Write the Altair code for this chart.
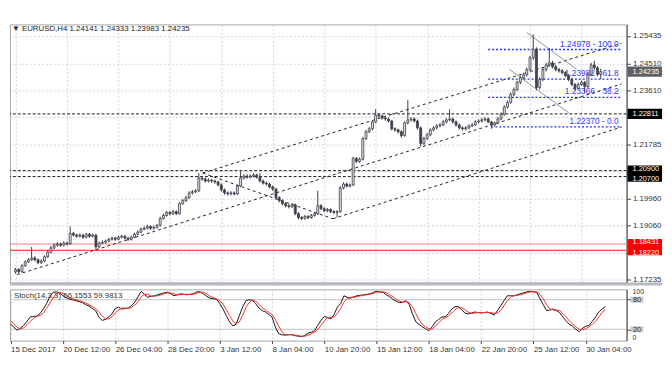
import json
import altair as alt
import pandas as pd

# ---------------- data ----------------
opens = [
    1.1750, 1.1757, 1.1750, 1.1770, 1.1783, 1.1790, 1.1796, 1.1790, 1.1780, 1.1786,
    1.1800, 1.1816, 1.1830, 1.1839, 1.1843, 1.1839, 1.1846, 1.1843, 1.1879, 1.1873,
    1.1869, 1.1873, 1.1866, 1.1876, 1.1869, 1.1873, 1.1833, 1.1846, 1.1849, 1.1853,
    1.1859, 1.1863, 1.1859, 1.1866, 1.1869, 1.1863, 1.1859, 1.1866, 1.1876, 1.1883,
    1.1893, 1.1896, 1.1902, 1.1896, 1.1899, 1.1906, 1.1929, 1.1939, 1.1949, 1.1945,
    1.1952, 1.1945, 1.1979, 1.1989, 1.1999, 1.2015, 1.2019, 1.2022, 1.2065, 1.2062,
    1.2055, 1.2058, 1.2055, 1.2052, 1.2042, 1.2025, 1.2015, 1.2012, 1.2015, 1.2012,
    1.2038, 1.2065, 1.2072, 1.2068, 1.2072, 1.2075, 1.2068, 1.2055, 1.2048, 1.2045,
    1.2035, 1.2028, 1.1999, 1.1989, 1.1979, 1.1972, 1.1969, 1.1975, 1.1945, 1.1932,
    1.1929, 1.1936, 1.1932, 1.1939, 1.1945, 1.1972, 1.1962, 1.1955, 1.1959, 1.1952,
    1.1949, 1.1952, 1.2032, 1.2045, 1.2038, 1.2042, 1.2131, 1.2121, 1.2128, 1.2198,
    1.2221, 1.2231, 1.2254, 1.2277, 1.2274, 1.2267, 1.2264, 1.2257, 1.2231, 1.2227,
    1.2221, 1.2208, 1.2251, 1.2261, 1.2264, 1.2257, 1.2234, 1.2181, 1.2198, 1.2211,
    1.2227, 1.2234, 1.2241, 1.2244, 1.2254, 1.2261, 1.2264, 1.2254, 1.2244, 1.2234,
    1.2231, 1.2234, 1.2241, 1.2244, 1.2254, 1.2257, 1.2261, 1.2264, 1.2254, 1.2244,
    1.2251, 1.2264, 1.2280, 1.2304, 1.2320, 1.2347, 1.2363, 1.2387, 1.2403, 1.2413,
    1.2430, 1.2470, 1.2499, 1.2370, 1.2397, 1.2430, 1.2446, 1.2453, 1.2440, 1.2430,
    1.2426, 1.2420, 1.2410, 1.2397, 1.2380, 1.2367, 1.2380, 1.2387, 1.2373, 1.2413,
    1.2446, 1.2436, 1.24141,
]
closes = [
    1.1757, 1.1750, 1.1770, 1.1783, 1.1790, 1.1796, 1.1790, 1.1780, 1.1786, 1.1800,
    1.1816, 1.1830, 1.1839, 1.1843, 1.1839, 1.1846, 1.1843, 1.1879, 1.1873, 1.1869,
    1.1873, 1.1866, 1.1876, 1.1869, 1.1873, 1.1833, 1.1846, 1.1849, 1.1853, 1.1859,
    1.1863, 1.1859, 1.1866, 1.1869, 1.1863, 1.1859, 1.1866, 1.1876, 1.1883, 1.1893,
    1.1896, 1.1902, 1.1896, 1.1899, 1.1906, 1.1929, 1.1939, 1.1949, 1.1945, 1.1952,
    1.1945, 1.1979, 1.1989, 1.1999, 1.2015, 1.2019, 1.2022, 1.2065, 1.2062, 1.2055,
    1.2058, 1.2055, 1.2052, 1.2042, 1.2025, 1.2015, 1.2012, 1.2015, 1.2012, 1.2038,
    1.2065, 1.2072, 1.2068, 1.2072, 1.2075, 1.2068, 1.2055, 1.2048, 1.2045, 1.2035,
    1.2028, 1.1999, 1.1989, 1.1979, 1.1972, 1.1969, 1.1975, 1.1945, 1.1932, 1.1929,
    1.1936, 1.1932, 1.1939, 1.1945, 1.1972, 1.1962, 1.1955, 1.1959, 1.1952, 1.1949,
    1.1952, 1.2032, 1.2045, 1.2038, 1.2042, 1.2131, 1.2121, 1.2128, 1.2198, 1.2221,
    1.2231, 1.2254, 1.2277, 1.2274, 1.2267, 1.2264, 1.2257, 1.2231, 1.2227, 1.2221,
    1.2208, 1.2251, 1.2261, 1.2264, 1.2257, 1.2234, 1.2181, 1.2198, 1.2211, 1.2227,
    1.2234, 1.2241, 1.2244, 1.2254, 1.2261, 1.2264, 1.2254, 1.2244, 1.2234, 1.2231,
    1.2234, 1.2241, 1.2244, 1.2254, 1.2257, 1.2261, 1.2264, 1.2254, 1.2244, 1.2251,
    1.2264, 1.2280, 1.2304, 1.2320, 1.2347, 1.2363, 1.2387, 1.2403, 1.2413, 1.2430,
    1.2470, 1.2499, 1.2370, 1.2397, 1.2430, 1.2446, 1.2453, 1.2440, 1.2430, 1.2426,
    1.2420, 1.2410, 1.2397, 1.2380, 1.2367, 1.2380, 1.2387, 1.2373, 1.2413, 1.2446,
    1.2436, 1.24141, 1.24235,
]
highs = [
    1.1763, 1.1762, 1.1775, 1.1788, 1.1796, 1.1833, 1.1802, 1.1794, 1.1791, 1.1805,
    1.1821, 1.1836, 1.1845, 1.1850, 1.1848, 1.1852, 1.1851, 1.1902, 1.1884, 1.1878,
    1.1879, 1.1877, 1.1881, 1.1880, 1.1878, 1.1877, 1.1851, 1.1855, 1.1858, 1.1864,
    1.1868, 1.1867, 1.1871, 1.1874, 1.1873, 1.1867, 1.1871, 1.1881, 1.1889, 1.1898,
    1.1902, 1.1908, 1.1906, 1.1905, 1.1911, 1.1935, 1.1945, 1.1955, 1.1954, 1.1958,
    1.1956, 1.1984, 1.1995, 1.2005, 1.2021, 1.2025, 1.2028, 1.2082, 1.2072, 1.2067,
    1.2064, 1.2063, 1.2060, 1.2056, 1.2047, 1.2030, 1.2020, 1.2021, 1.2020, 1.2043,
    1.2088, 1.2078, 1.2077, 1.2078, 1.2081, 1.2080, 1.2082, 1.2060, 1.2053, 1.2050,
    1.2040, 1.2032, 1.2004, 1.1994, 1.1984, 1.1977, 1.1981, 1.1979, 1.1950, 1.1937,
    1.1941, 1.1940, 1.1944, 1.1950, 1.2022, 1.1977, 1.1967, 1.1964, 1.1963, 1.1957,
    1.1957, 1.2038, 1.2051, 1.2050, 1.2047, 1.2137, 1.2136, 1.2134, 1.2204, 1.2227,
    1.2237, 1.2260, 1.2297, 1.2283, 1.2279, 1.2272, 1.2269, 1.2261, 1.2236, 1.2232,
    1.2226, 1.2256, 1.2327, 1.2270, 1.2269, 1.2262, 1.2239, 1.2204, 1.2217, 1.2233,
    1.2240, 1.2247, 1.2250, 1.2260, 1.2267, 1.2297, 1.2269, 1.2259, 1.2249, 1.2239,
    1.2240, 1.2246, 1.2250, 1.2260, 1.2263, 1.2267, 1.2270, 1.2269, 1.2258, 1.2256,
    1.2270, 1.2286, 1.2310, 1.2326, 1.2353, 1.2370, 1.2393, 1.2410, 1.2420, 1.2437,
    1.2477, 1.2549, 1.2505, 1.2404, 1.2437, 1.2453, 1.2503, 1.2460, 1.2446, 1.2436,
    1.2432, 1.2425, 1.2415, 1.2403, 1.2385, 1.2386, 1.2393, 1.2392, 1.2419, 1.2453,
    1.2460, 1.2442, 1.24333,
]
lows = [
    1.1743, 1.1745, 1.1747, 1.1766, 1.1779, 1.1786, 1.1785, 1.1775, 1.1776, 1.1782,
    1.1796, 1.1812, 1.1826, 1.1834, 1.1833, 1.1835, 1.1837, 1.1840, 1.1868, 1.1864,
    1.1865, 1.1861, 1.1862, 1.1864, 1.1865, 1.1823, 1.1829, 1.1842, 1.1845, 1.1849,
    1.1855, 1.1854, 1.1855, 1.1862, 1.1858, 1.1853, 1.1855, 1.1862, 1.1872, 1.1879,
    1.1889, 1.1892, 1.1891, 1.1892, 1.1895, 1.1902, 1.1925, 1.1935, 1.1940, 1.1941,
    1.1940, 1.1942, 1.1975, 1.1985, 1.1995, 1.2010, 1.2014, 1.2018, 1.2056, 1.2050,
    1.2050, 1.2049, 1.2046, 1.2037, 1.2019, 1.2009, 1.2006, 1.2007, 1.2006, 1.2008,
    1.2034, 1.2060, 1.2063, 1.2064, 1.2067, 1.2063, 1.2050, 1.2043, 1.2040, 1.2030,
    1.2022, 1.1993, 1.1983, 1.1973, 1.1966, 1.1963, 1.1964, 1.1940, 1.1926, 1.1923,
    1.1925, 1.1927, 1.1928, 1.1935, 1.1941, 1.1957, 1.1950, 1.1950, 1.1947, 1.1943,
    1.1932, 1.1948, 1.2027, 1.2033, 1.2033, 1.2038, 1.2115, 1.2116, 1.2124, 1.2193,
    1.2216, 1.2226, 1.2250, 1.2268, 1.2262, 1.2258, 1.2252, 1.2225, 1.2221, 1.2215,
    1.2201, 1.2204, 1.2246, 1.2255, 1.2252, 1.2228, 1.2171, 1.2176, 1.2193, 1.2206,
    1.2222, 1.2229, 1.2236, 1.2240, 1.2249, 1.2256, 1.2249, 1.2238, 1.2228, 1.2225,
    1.2226, 1.2229, 1.2236, 1.2240, 1.2249, 1.2252, 1.2256, 1.2249, 1.2231, 1.2239,
    1.2246, 1.2259, 1.2275, 1.2299, 1.2315, 1.2341, 1.2358, 1.2381, 1.2398, 1.2407,
    1.2425, 1.2463, 1.2360, 1.2363, 1.2391, 1.2424, 1.2440, 1.2434, 1.2424, 1.2420,
    1.2414, 1.2404, 1.2391, 1.2374, 1.2360, 1.2362, 1.2375, 1.2353, 1.2368, 1.2408,
    1.2430, 1.2408, 1.23983,
]
stoch_k = [
    31, 24, 18, 22, 28, 36, 45, 46, 47, 52,
    61, 72, 86, 95, 96, 94, 88, 84, 81, 80,
    78, 76, 74, 70, 67, 62, 58, 45, 38, 40,
    45, 51, 62, 65, 61, 62, 63, 68, 75, 86,
    97, 90, 85, 87, 88, 90, 92, 94, 95, 92,
    88, 90, 92, 91, 90, 91, 92, 96, 96, 92,
    87, 83, 82, 81, 72, 61, 48, 35, 27, 30,
    48, 65, 78, 80, 79, 72, 63, 58, 55, 50,
    45, 25, 11, 9, 8, 9, 9, 7, 6, 5,
    7, 12, 14, 17, 28, 38, 46, 44, 41, 50,
    65, 72, 88, 85, 83, 86, 88, 89, 90, 91,
    92, 95, 97, 96, 95, 90, 86, 81, 77, 74,
    75, 78, 70, 51, 35, 30, 25, 21, 17, 25,
    35, 40, 45, 45, 52, 61, 66, 66, 60, 53,
    51, 53, 55, 54, 53, 54, 55, 52, 49, 58,
    68, 78, 88, 88, 88, 90, 92, 94, 96, 97,
    96, 95, 82, 70, 58, 59, 61, 58, 54, 45,
    37, 30, 26, 20, 15, 22, 26, 28, 36, 45,
    55, 61, 66.1553,
]
stoch_d = [
    38, 31, 24, 21, 23, 29, 36, 42, 46, 48,
    53, 62, 73, 84, 92, 95, 93, 89, 84, 82,
    80, 78, 76, 73, 70, 66, 62, 55, 47, 41,
    41, 45, 53, 59, 63, 63, 62, 64, 69, 76,
    86, 91, 91, 87, 87, 88, 90, 92, 94, 94,
    92, 90, 90, 91, 91, 91, 91, 93, 95, 95,
    92, 87, 84, 82, 78, 71, 60, 48, 37, 31,
    35, 48, 64, 74, 79, 77, 71, 64, 59, 54,
    50, 40, 27, 15, 9, 9, 9, 8, 7, 6,
    6, 8, 11, 14, 20, 28, 37, 43, 44, 45,
    52, 62, 75, 82, 85, 85, 86, 88, 89, 90,
    91, 93, 95, 96, 96, 94, 90, 86, 81, 77,
    75, 76, 74, 66, 52, 39, 30, 25, 21, 21,
    26, 33, 40, 43, 47, 53, 60, 64, 64, 60,
    55, 52, 53, 54, 54, 54, 54, 54, 52, 53,
    58, 68, 78, 85, 88, 89, 90, 92, 94, 96,
    96, 96, 91, 82, 70, 62, 59, 59, 58, 52,
    45, 37, 31, 25, 20, 19, 21, 25, 30, 36,
    45, 54, 59.9813,
]

tick_bars = [0, 16, 32, 48, 64, 80, 96, 112, 128, 144, 160, 176]
tick_labels = ["15 Dec 2017", "20 Dec 12:00", "26 Dec 04:00", "28 Dec 20:00",
               "3 Jan 12:00", "8 Jan 04:00", "10 Jan 20:00", "15 Jan 12:00",
               "18 Jan 04:00", "22 Jan 20:00", "25 Jan 12:00", "30 Jan 04:00"]
price_ticks = [1.25435, 1.24510, 1.23610, 1.22710, 1.21785, 1.20885,
               1.19960, 1.19060, 1.18135, 1.17235]
hidden_price_labels = [122710, 120885, 118135]   # covered by level boxes
stoch_ticks = [20, 80]
stoch_edge_values = [100, 0]
stoch_edge_labels = ["100", "0"]
stoch_levels = [20, 80]

black_levels = [1.22811, 1.20900, 1.20700]
red_levels_light = [1.18431]
red_levels_dark = [1.18220]

# channel / trend lines: anchor points (bar index, price)
trend_x1 = [0.5, 58.2, 98.7, 58.2]
trend_y1 = [1.1740, 1.2082, 1.1928, 1.2082]
trend_x2 = [188.5, 188.5, 188.5, 98.7]
trend_y2 = [1.2382, 1.2519, 1.2237, 1.1928]
flag_x1 = [159.0, 153.6]
flag_y1 = [1.2555, 1.2431]
flag_x2 = [174.5, 172.0]
flag_y2 = [1.2431, 1.2285]

fib_prices = [1.24978, 1.23982, 1.23366, 1.22370]
fib_names = ["100.0", "61.8", "38.2", "0.0"]
fib_from = [147, 147, 147, 148]
fib_to = [188.5, 188.5, 188.5, 188.5]

box_prices = [1.24235, 1.22811, 1.20900, 1.20700, 1.18431, 1.18220]
box_labels = ["1.24235", "1.22811", "1.20900", "1.20700", "1.18431", "1.18220"]
box_kinds = ["current", "level", "level", "level", "support", "support"]
upper_of_pair = ["1.20900", "1.18431"]
lower_of_pair = ["1.20700", "1.18220"]

header_text = "\u25bc EURUSD,H4  1.24141 1.24333 1.23983 1.24235"
stoch_text = "Stoch(14,3,3) 66.1553 59.9813"

# ---------------- chart ----------------
W = 626
H_MAIN = 262
H_STO = 52
FONT = "Liberation Sans"
GRID = "#d4d4d4"

n = len(closes)
bars = pd.DataFrame({"i": list(range(n)), "open": opens, "high": highs,
                     "low": lows, "close": closes})

xscale = alt.Scale(domain=[-0.2, 188.5], nice=False, zero=False)
x_grid_axis = alt.Axis(values=tick_bars, labels=False, ticks=False, domain=False,
                       grid=True, gridDash=[2, 2], gridColor=GRID, title=None)
pscale = alt.Scale(domain=[1.17135, 1.25823], nice=False, zero=False)
price_label_expr = ("indexof(" + json.dumps(hidden_price_labels) +
                    ", round(datum.value * 100000)) >= 0 ? '' : format(datum.value, '.5f')")
paxis = alt.Axis(orient="right", values=price_ticks, labelExpr=price_label_expr,
                 title=None, tickSize=4, tickColor="#444", domainColor="#444",
                 labelPadding=2, labelFontSize=8, labelFont=FONT, labelColor="#333",
                 labelOverlap=False, grid=True, gridDash=[2, 2], gridColor=GRID,
                 zindex=0)


def X(f):
    return alt.X(f, type="quantitative", scale=xscale, axis=x_grid_axis)


def Y(f):
    return alt.Y(f, type="quantitative", scale=pscale, axis=paxis)


hl = alt.Chart(pd.DataFrame({"p": black_levels})).mark_rule(
    color="#1a1a1a", strokeDash=[3, 2], strokeWidth=1).encode(y=Y("p"))
red1 = alt.Chart(pd.DataFrame({"p": red_levels_light})).mark_rule(
    color="#ff7a7a", strokeWidth=1.2).encode(y=Y("p"))
red2 = alt.Chart(pd.DataFrame({"p": red_levels_dark})).mark_rule(
    color="#ff1a1a", strokeWidth=1.2).encode(y=Y("p"))

trend = alt.Chart(pd.DataFrame({"x1": trend_x1, "y1": trend_y1, "x2": trend_x2,
                                "y2": trend_y2})).mark_rule(
    color="#222222", strokeDash=[3, 3], strokeWidth=1).encode(
    x=X("x1"), y=Y("y1"), x2="x2:Q", y2="y2:Q")
flag = alt.Chart(pd.DataFrame({"x1": flag_x1, "y1": flag_y1, "x2": flag_x2,
                               "y2": flag_y2})).mark_rule(
    color="#8f8f8f", strokeWidth=1).encode(
    x=X("x1"), y=Y("y1"), x2="x2:Q", y2="y2:Q")

fib_df = pd.DataFrame({"p": fib_prices,
                       "lab": [f"{p:.5f} - {nm}" for p, nm in zip(fib_prices, fib_names)],
                       "x1": fib_from, "x2": fib_to})
fib_rules = alt.Chart(fib_df).mark_rule(
    color="#2b2bff", strokeDash=[2, 2], strokeWidth=1.3).encode(
    x=X("x1"), x2="x2:Q", y=Y("p"))
fib_text = alt.Chart(fib_df).mark_text(
    align="right", baseline="bottom", dx=-3, dy=-1, color="#3535ff",
    fontSize=8.5, font=FONT).encode(x=X("x2"), y=Y("p"), text="lab:N")

wicks = alt.Chart(bars).mark_rule(color="#3a3f48", strokeWidth=1).encode(
    x=X("i"), y=Y("low"), y2="high:Q")
up = alt.Chart(bars).transform_filter("datum.close >= datum.open").mark_bar(
    size=2, fill="#e2e6ea", stroke="#3a3f48", strokeWidth=0.8).encode(
    x=X("i"), y=Y("open"), y2="close:Q")
down = alt.Chart(bars).transform_filter("datum.close < datum.open").mark_bar(
    size=2, fill="#3f4653", stroke="#3a3f48", strokeWidth=0.8).encode(
    x=X("i"), y=Y("open"), y2="close:Q")

bx = pd.DataFrame({"p": box_prices, "lab": box_labels, "kind": box_kinds})
box_rect = alt.Chart(bx).transform_calculate(
    top="datum.p + 0.0017", bot="datum.p - 0.0017").mark_rect().encode(
    x=alt.value(W + 1), x2=alt.value(W + 36), y=Y("top"), y2="bot:Q",
    fill=alt.Fill("kind:N", scale=alt.Scale(domain=["current", "level", "support"],
                                            range=["#5e6063", "#000000", "#ff0000"]),
                  legend=None))


def box_text(pred, dy):
    return alt.Chart(bx).transform_filter(pred).mark_text(
        align="left", baseline="middle", color="white", fontSize=7.5, font=FONT,
        dy=dy).encode(x=alt.value(W + 6), y=Y("p"), text="lab:N")


up_list = json.dumps(upper_of_pair)
lo_list = json.dumps(lower_of_pair)
bt_single = box_text(f"indexof({up_list}, datum.lab) < 0 && indexof({lo_list}, datum.lab) < 0", 0)
bt_upper = box_text(f"indexof({up_list}, datum.lab) >= 0", -2)
bt_lower = box_text(f"indexof({lo_list}, datum.lab) >= 0", 2.5)

header = alt.Chart(pd.DataFrame({"t": [header_text]})).mark_text(
    align="left", baseline="middle", fontSize=8, font=FONT, color="#222").encode(
    x=alt.value(2), y=alt.value(5), text="t:N")

separator = alt.Chart(pd.DataFrame({"a": [0]})).mark_rule(
    color="#b6babf", strokeWidth=3).encode(
    x=alt.value(0), x2=alt.value(W + 36), y=alt.value(H_MAIN + 1.5))

main = alt.layer(hl, red1, red2, trend, flag, fib_rules, fib_text, wicks, up, down,
                 box_rect, bt_single, bt_upper, bt_lower, header, separator).properties(
    width=W, height=H_MAIN)

# ---- stochastic panel ----
st = pd.DataFrame({"i": list(range(n)), "k": stoch_k, "d": stoch_d})
sscale = alt.Scale(domain=[-3, 101], nice=False, zero=False)
saxis = alt.Axis(orient="right", values=stoch_ticks, title=None, tickSize=4,
                 tickColor="#444", domainColor="#444", labelPadding=2,
                 labelFontSize=7.5, labelFont=FONT, labelColor="#333",
                 labelOverlap=False, grid=False, zindex=1)
label_expr = json.dumps(tick_labels) + "[round(datum.value / 16)]"
x_bottom_axis = alt.Axis(values=tick_bars, labelExpr=label_expr, labelAlign="left",
                         labelPadding=2, labelFontSize=8, labelFont=FONT,
                         labelColor="#333", tickSize=3, tickColor="#444",
                         domain=False, grid=True, gridDash=[2, 2], gridColor=GRID,
                         title=None, labelOverlap=False, labelFlush=False)


def SX(f):
    return alt.X(f, type="quantitative", scale=xscale, axis=x_bottom_axis)


def SY(f):
    return alt.Y(f, type="quantitative", scale=sscale, axis=saxis)


lv = pd.DataFrame({"v": stoch_levels})
s_levels = alt.Chart(lv).mark_rule(color="#c2c2c2", strokeWidth=1).encode(y=SY("v"))
s_boxes = alt.Chart(lv).transform_calculate(
    top="datum.v + 6", bot="datum.v - 6").mark_rect(color="#c9c9c9").encode(
    x=alt.value(W + 4), x2=alt.value(W + 17), y=SY("top"), y2="bot:Q")
edge = pd.DataFrame({"v": stoch_edge_values, "lab": stoch_edge_labels})
s_edge_top = alt.Chart(edge).transform_filter("datum.v > 50").mark_text(
    align="left", baseline="top", fontSize=7, font=FONT, color="#333", dy=-2).encode(
    x=alt.value(W + 6), y=SY("v"), text="lab:N")
s_edge_bot = alt.Chart(edge).transform_filter("datum.v < 50").mark_text(
    align="left", baseline="bottom", fontSize=7, font=FONT, color="#333", dy=2).encode(
    x=alt.value(W + 6), y=SY("v"), text="lab:N")
k_line = alt.Chart(st).mark_line(color="#151515", strokeWidth=1).encode(
    x=SX("i"), y=SY("k"))
d_line = alt.Chart(st).mark_line(color="#ff2a2a", strokeWidth=1).encode(
    x=SX("i"), y=SY("d"))
s_label = alt.Chart(pd.DataFrame({"t": [stoch_text]})).mark_text(
    align="left", baseline="middle", fontSize=8, font=FONT, color="#333").encode(
    x=alt.value(4), y=alt.value(7), text="t:N")

stoch = alt.layer(s_levels, s_boxes, k_line, d_line, s_label, s_edge_top,
                  s_edge_bot).properties(width=W, height=H_STO)

chart = alt.vconcat(main, stoch, spacing=0).properties(
    padding={"left": 0, "top": 13, "right": 0, "bottom": 0},
    background="white",
).configure_view(stroke="#a6a6a6", strokeWidth=1)

chart.save("out.html", embed_options={"renderer": "svg", "actions": False})
